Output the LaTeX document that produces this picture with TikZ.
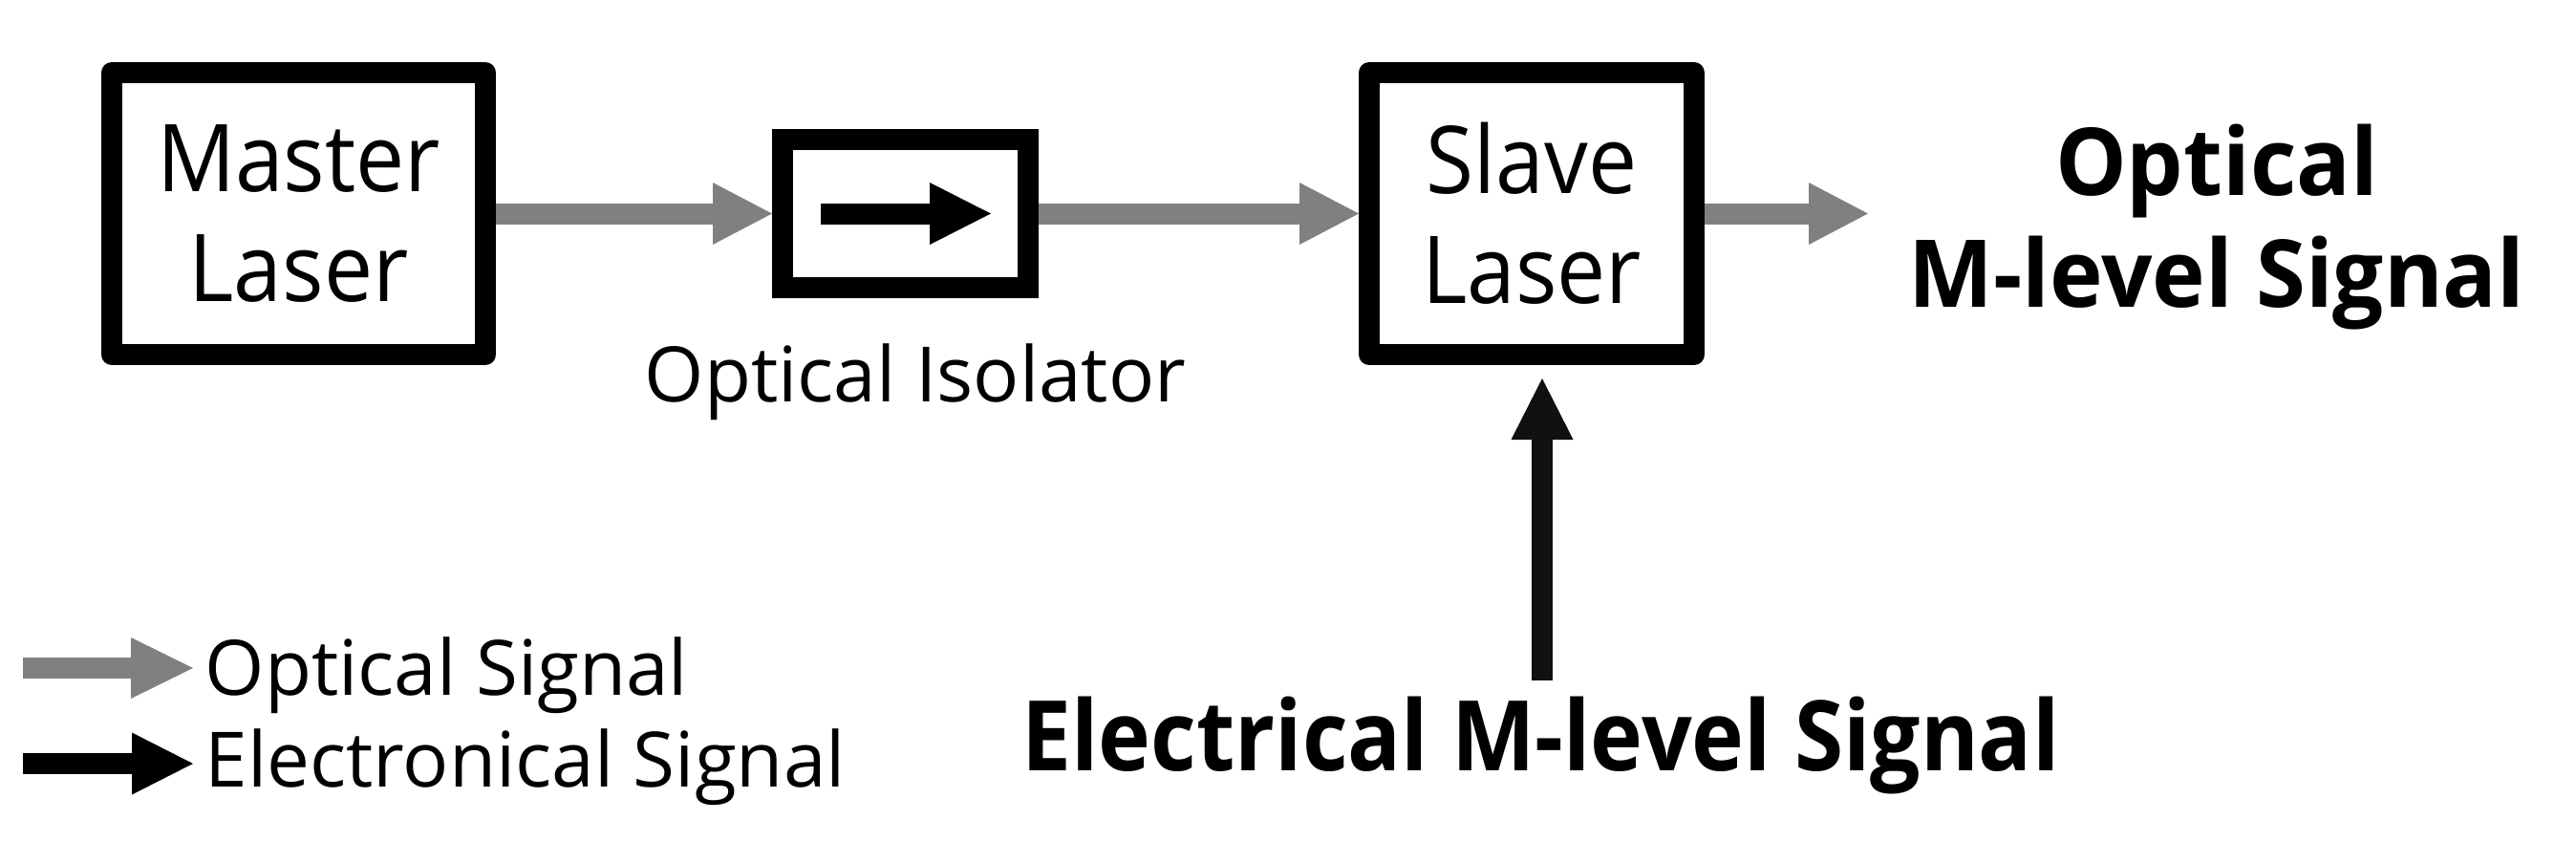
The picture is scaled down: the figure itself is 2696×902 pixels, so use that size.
\documentclass[tikz,border=0pt]{standalone}
\usepackage{fontspec}
\setmainfont{Open Sans}
\newfontfamily\condfont[FakeStretch=0.93]{Open Sans}
\newfontfamily\boldcond[FakeStretch=0.91]{Open Sans}
\newfontfamily\boldwide[FakeStretch=0.96]{Open Sans}
\usetikzlibrary{arrows.meta,calc}
\definecolor{ogray}{HTML}{808080}
\definecolor{eblack}{HTML}{111111}
\tikzset{
  blk/.style={draw=black, line width=5.5pt, inner sep=0pt, fill=white, line join=round},
  isobox/.style={draw=black, line width=5.5pt, inner sep=0pt, fill=white, line join=miter},
  garrow/.style={draw=ogray, line width=5.5pt, -{Triangle[length=15.5pt,width=16.25pt,line width=0pt]}},
  barrow/.style={draw=black, line width=5.5pt, -{Triangle[length=16pt,width=16.25pt,line width=0pt]}},
  boxtext/.style={font=\condfont\fontsize{24.5}{28.75}\selectfont, align=center},
  bigbold/.style={font=\boldwide\bfseries\fontsize{24.5}{29.25}\selectfont, align=center, inner sep=0pt},
  smalltext/.style={font=\fontsize{20}{24}\selectfont, inner sep=0pt},
  legtext/.style={font=\fontsize{20}{24}\selectfont, inner sep=0pt, anchor=base west},
}
\begin{document}
\begin{tikzpicture}[x=0.25pt, y=-0.25pt]
\useasboundingbox (0,0) rectangle (2696,902);
% boxes
\node[blk, minimum width=97.75pt, minimum height=73.75pt, boxtext] (master) at (312.5,223.5) {Master\\Laser};
\node[isobox, minimum width=64.25pt, minimum height=38.75pt] (iso) at (947.5,223.5) {};
\node[blk, minimum width=85pt, minimum height=73.75pt, boxtext] (slave) at (1603,223.5) {Slave\\Laser};
% isolator inner arrow
\coordinate (isoA) at (858.5,223.5);
\coordinate (isoB) at (1037,223.5);
\draw[barrow] (isoA) -- (isoB);
% labels
\node[smalltext, anchor=base] (isolbl) at (958,420) {Optical Isolator};
\node[bigbold, anchor=south, text depth=0pt] (outlbl) at (2320,322) {Optical\\M-level Signal};
\node[bigbold, font=\boldcond\bfseries\fontsize{25.5}{30}\selectfont, anchor=base] (elbl) at (1612.5,806) {Electrical M-level Signal};
% optical connectors
\draw[garrow] (master.east) -- (iso.west);
\draw[garrow] (iso.east) -- (slave.west);
\coordinate (outtip) at (1955,223.5);
\draw[garrow] (slave.east) -- (outtip);
% electrical input
\coordinate (einA) at (1614,712);
\coordinate (einB) at (1614,396);
\draw[barrow, draw=eblack, fill=eblack] (einA) -- (einB);
% legend
\coordinate (lg1a) at (24,699);
\coordinate (lg1b) at (202,699);
\coordinate (lg2a) at (24,799);
\coordinate (lg2b) at (202,799);
\draw[garrow, -{Triangle[length=16.25pt,width=16pt,line width=0pt]}] (lg1a) -- (lg1b);
\draw[barrow] (lg2a) -- (lg2b);
\node[legtext] (leg1) at (214,727) {Optical Signal};
\node[legtext] (leg2) at (214,823) {Electronical Signal};
\end{tikzpicture}
\end{document}
